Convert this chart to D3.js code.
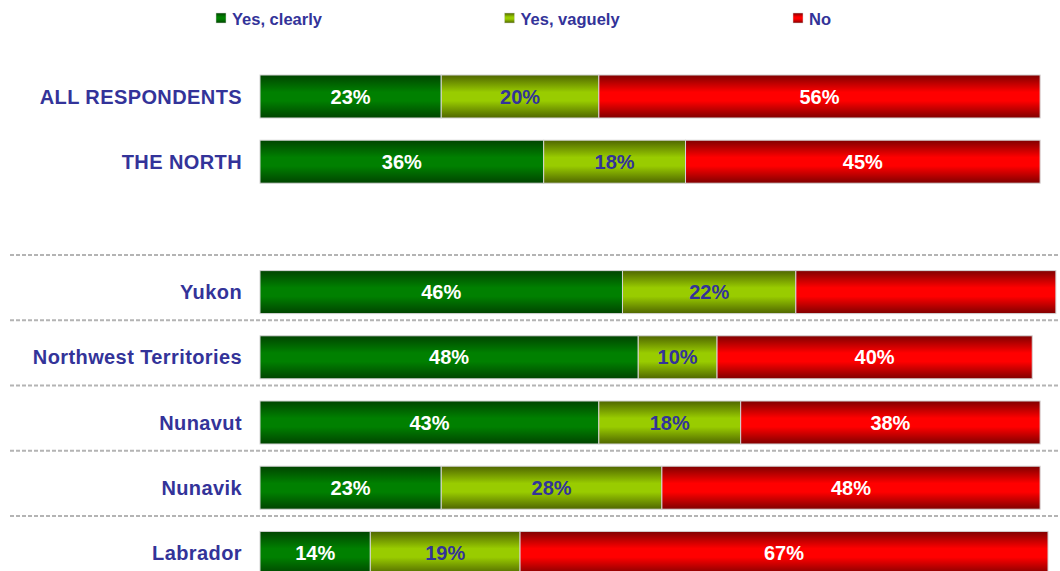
<!DOCTYPE html>
<html>
<head>
<meta charset="utf-8">
<script src="https://cdn.jsdelivr.net/npm/d3@7"></script>
<style>
  html, body { margin: 0; padding: 0; background: #ffffff; }
  svg { display: block; }
</style>
</head>
<body>
<svg id="chart" width="1060" height="571"></svg>
<script>
// ---- data ----
const rows = ["ALL RESPONDENTS", "THE NORTH", "", "Yukon", "Northwest Territories", "Nunavut", "Nunavik", "Labrador"];
const categories = ["ALL RESPONDENTS", "THE NORTH", "Yukon", "Northwest Territories", "Nunavut", "Nunavik", "Labrador"];
const seriesNames = ["Yes, clearly", "Yes, vaguely", "No"];
const yesClearly = [23, 36, 46, 48, 43, 23, 14];
const yesVaguely = [20, 18, 22, 10, 18, 28, 19];
const no = [56, 45, 33, 40, 38, 48, 67];
const hiddenLabels = [["Yukon", "No"]];
const separatedCategories = ["Yukon", "Northwest Territories", "Nunavut", "Nunavik", "Labrador"];

// ---- styles ----
const navy = "#333399";
const palette = {
  "Yes, clearly": { dark: "#004400", bright: "#008000", text: "#ffffff" },
  "Yes, vaguely": { dark: "#4f6600", bright: "#99cc00", text: navy },
  "No": { dark: "#800000", bright: "#ff0000", text: "#ffffff" }
};
const font = "'Liberation Sans', Arial, Helvetica, sans-serif";

const svg = d3.select("#chart");

const x = d3.scaleLinear().domain([0, 100]).range([260, 1048]);
const y = d3.scalePoint().domain(rows.map((r, i) => i)).range([96.5, 552.9]);
const barH = 43;

// gradients
const defs = svg.append("defs");
seriesNames.forEach((s, k) => {
  const g = defs.append("linearGradient").attr("id", "grad" + k)
    .attr("x1", 0).attr("y1", 0).attr("x2", 0).attr("y2", 1);
  g.append("stop").attr("offset", "0%").attr("stop-color", palette[s].dark);
  g.append("stop").attr("offset", "40%").attr("stop-color", palette[s].bright);
  g.append("stop").attr("offset", "60%").attr("stop-color", palette[s].bright);
  g.append("stop").attr("offset", "100%").attr("stop-color", palette[s].dark);
});

// stacked data
const table = categories.map((c, i) => ({
  category: c,
  "Yes, clearly": yesClearly[i],
  "Yes, vaguely": yesVaguely[i],
  "No": no[i]
}));
const stacked = d3.stack().keys(seriesNames)(table);
const rowIndex = c => rows.indexOf(c);

// dashed separators
svg.append("g").selectAll("line")
  .data(separatedCategories)
  .join("line")
  .attr("x1", 10).attr("x2", 1060)
  .attr("y1", d => y(rowIndex(d)) - 37)
  .attr("y2", d => y(rowIndex(d)) - 37)
  .attr("stroke", "#b4b4b4")
  .attr("stroke-width", 2)
  .attr("stroke-dasharray", "4,2");

// bars
const layers = svg.append("g").selectAll("g.layer")
  .data(stacked)
  .join("g").attr("class", "layer");

layers.selectAll("rect")
  .data((layer, k) => layer.map(d => ({ d, k, key: layer.key })))
  .join("rect")
  .attr("x", o => x(o.d[0]))
  .attr("width", o => x(o.d[1]) - x(o.d[0]))
  .attr("y", o => y(rowIndex(o.d.data.category)) - barH / 2)
  .attr("height", barH)
  .attr("fill", o => "url(#grad" + o.k + ")")
  .attr("stroke", "#d4d4d4")
  .attr("stroke-width", 1);

// value labels
layers.selectAll("text")
  .data((layer, k) => layer.map(d => ({ d, k, key: layer.key }))
    .filter(o => !hiddenLabels.some(h => h[0] === o.d.data.category && h[1] === o.key)))
  .join("text")
  .attr("x", o => (x(o.d[0]) + x(o.d[1])) / 2)
  .attr("y", o => y(rowIndex(o.d.data.category)) + 7)
  .attr("text-anchor", "middle")
  .attr("font-family", font)
  .attr("font-weight", "bold")
  .attr("font-size", 20)
  .attr("fill", o => palette[o.key].text)
  .text(o => (o.d[1] - o.d[0]) + "%");

// category labels
svg.append("g").selectAll("text")
  .data(categories)
  .join("text")
  .attr("x", 242)
  .attr("y", d => y(rowIndex(d)) + 7)
  .attr("text-anchor", "end")
  .attr("font-family", font)
  .attr("font-weight", "bold")
  .attr("font-size", 20)
  .attr("letter-spacing", 0.4)
  .attr("fill", navy)
  .text(d => d);

// legend
const legendX = d3.scalePoint().domain(seriesNames).range([216, 793]);
const legend = svg.append("g").selectAll("g")
  .data(seriesNames)
  .join("g")
  .attr("transform", d => `translate(${legendX(d)},0)`);
legend.append("rect")
  .attr("x", 0).attr("y", 13).attr("width", 10).attr("height", 10)
  .attr("fill", (d, k) => "url(#grad" + k + ")")
  .attr("stroke", "#d4d4d4").attr("stroke-width", 0.5);
legend.append("text")
  .attr("x", 16).attr("y", 24.5)
  .attr("font-family", font)
  .attr("font-weight", "bold")
  .attr("font-size", 16.5)
  .attr("fill", navy)
  .text(d => d);
</script>
</body>
</html>
